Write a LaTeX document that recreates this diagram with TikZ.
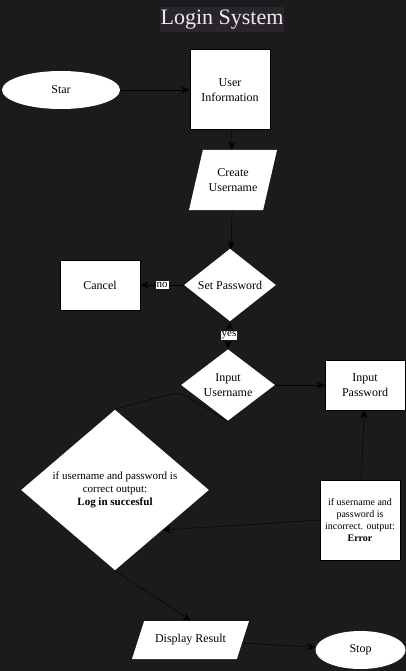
\documentclass[tikz,border=0pt]{standalone}
\usepackage{fontspec}
\setmainfont{Liberation Serif}
\usetikzlibrary{arrows.meta,shapes.geometric,backgrounds}

\definecolor{canvas}{RGB}{27,27,27}
\definecolor{titlebg}{RGB}{42,37,45}
\definecolor{titlefg}{RGB}{236,236,236}

\begin{document}
\begin{tikzpicture}[x=1pt,y=-1pt,->,>={Stealth[length=8pt,width=7pt,inset=2.5pt]},
      line width=1pt,font=\fontsize{12}{15}\selectfont,
      box/.style={rectangle,draw=black,fill=white,inner sep=0pt,align=center},
      oval/.style={ellipse,fill=white,inner sep=0pt},
      choice/.style={diamond,fill=white,inner sep=0pt,align=center},
      slanted/.style={trapezium,trapezium stretches body,fill=white,
        inner sep=0pt,align=center},
      tag/.style={fill=white,inner sep=1pt,font=\fontsize{11}{12}\selectfont}]
      \useasboundingbox (0,0) rectangle (406,671);

      \node[fill=titlebg,text=titlefg,font=\fontsize{22}{24}\selectfont,
        inner xsep=1pt,inner ysep=0pt,minimum height=25pt] (title) at (222,19.5) {Login System};

      \node[oval,minimum width=118pt,minimum height=38pt] (star) at (61,90) {Star};
      \node[box,minimum size=80pt] (user) at (230,90) {User\\Information};
      \node[slanted,trapezium left angle=59,trapezium right angle=121,
        minimum width=88pt,minimum height=60pt] (uname) at (233,180) {Create\\Username};
      \node[choice,minimum width=92pt,minimum height=68pt] (setpw) at (230,285) {Set Password};
      \node[box,minimum width=80pt,minimum height=50pt] (cancel) at (100,285) {Cancel};
      \node[choice,minimum width=94pt,minimum height=70pt] (inuser) at (228,385) {Input\\Username};
      \node[box,minimum width=80pt,minimum height=50pt] (inpw) at (365,385) {Input\\Password};
      \node[choice,minimum width=188pt,minimum height=158pt,
        font=\fontsize{11}{13}\selectfont] (check) at (115,490)
        {if username and password is\\correct output:\\\textbf{Log in succesful}};
      \node[box,minimum size=80pt,font=\fontsize{10}{12}\selectfont] (error) at (360,520)
        {if username and\\password is\\incorrect. output:\\\textbf{Error}};
      \node[slanted,trapezium left angle=42,trapezium right angle=138,
        minimum width=117pt,minimum height=38pt] (result) at (190.5,640) {Display Result};
      \node[oval,minimum width=90pt,minimum height=38pt] (stop) at (360.5,650) {Stop};

      \coordinate (bend) at (179,392);

      \begin{pgfonlayer}{background}
        \fill[canvas] (0,0) rectangle (406,671);
        \draw[-,rounded corners=8pt] (check.north) -- (bend) -- (inuser.south);
      \end{pgfonlayer}

      \path
      (star) edge (user)
      (user) edge (uname)
      (uname) edge (setpw)
      (setpw) edge node [tag] {no} (cancel)
      (setpw.south) edge [<->] node [tag] {yes} (inuser.north)
      (inuser) edge (inpw)
      (error) edge (inpw)
      (error.west) edge (check.-40)
      (check.south) edge (result.north)
      (result) edge (stop)
      ;
\end{tikzpicture}
\end{document}
